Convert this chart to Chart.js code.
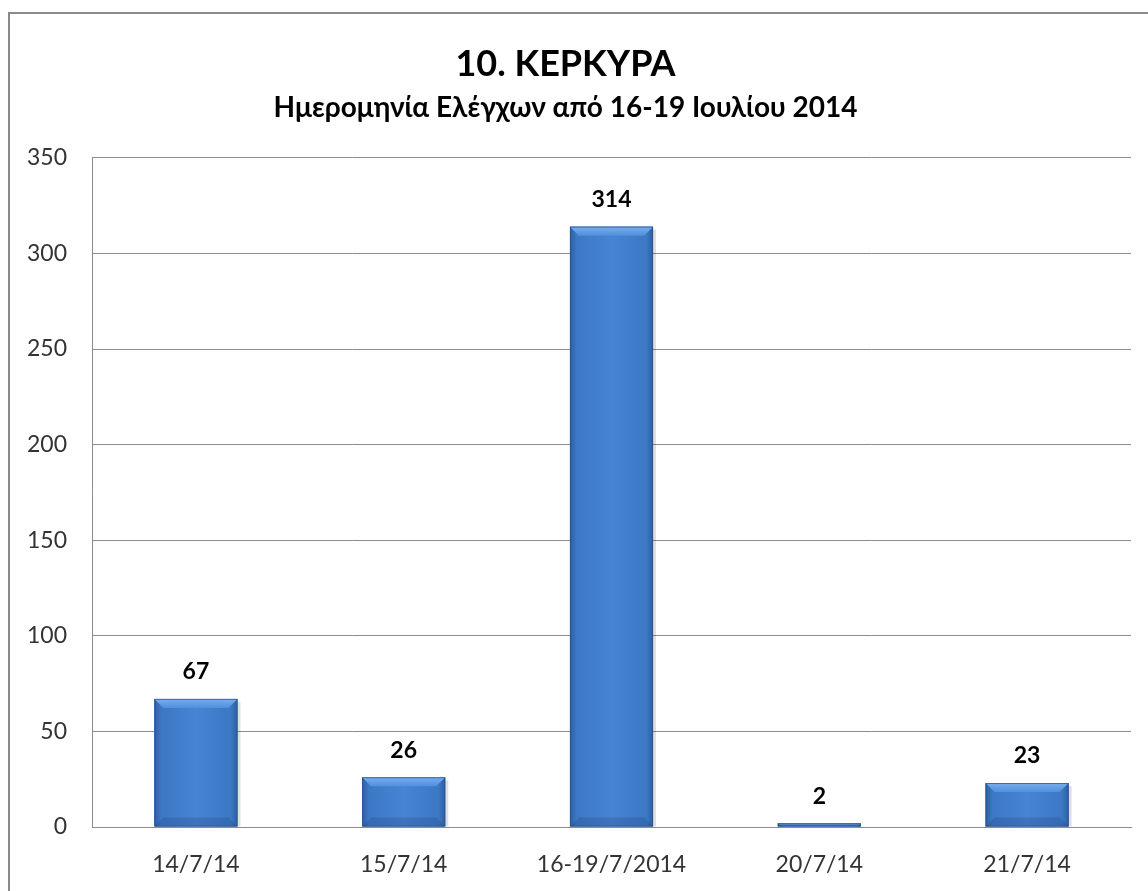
<!DOCTYPE html>
<html>
<head>
<meta charset="utf-8">
<script src="https://cdn.jsdelivr.net/npm/chart.js@4.4.1/dist/chart.umd.min.js"></script>
<style>
  html, body { margin: 0; padding: 0; background: #fff; overflow: hidden; }
  #frame { position: absolute; left: 8px; top: 12px; width: 1300px; height: 1000px; border: 2px solid #8a8a8a; box-sizing: border-box; }
  #wrap { position: absolute; left: 0; top: 0; width: 1148px; height: 891px; }
</style>
</head>
<body>
<div id="frame"></div>
<div id="wrap"><canvas id="chart"></canvas></div>
<script>
const labels = ["14/7/14", "15/7/14", "16-19/7/2014", "20/7/14", "21/7/14"];
const values = [67, 26, 314, 2, 23];
const yTicks = [0, 50, 100, 150, 200, 250, 300, 350];

const FAMILY = "Lato, 'Noto Sans', sans-serif";
const TICK_FONT = { family: FAMILY, size: 23 };
const GRID = "#8c8c8c";

// bevelled, shaded look of the bars, painted over each bar element
const bevel = {
  id: "bevel",
  afterDatasetsDraw(chart) {
    const ctx = chart.ctx;
    chart.getDatasetMeta(0).data.forEach(bar => {
      const { x, y, base, width } = bar.getProps(["x", "y", "base", "width"], true);
      const l = x - width / 2, r = x + width / 2, h = base - y;
      if (h <= 0) return;
      const b = Math.min(9, h / 2);
      ctx.save();
      // soft shadow on the right
      ctx.fillStyle = "rgba(0,0,0,0.12)"; ctx.fillRect(r, y + 3, 3, h - 3);
      const g = ctx.createLinearGradient(l, 0, r, 0);
      g.addColorStop(0, "#2d609f"); g.addColorStop(0.08, "#3c78c4"); g.addColorStop(0.5, "#4684d4");
      g.addColorStop(0.92, "#3c78c4"); g.addColorStop(1, "#2d609f");
      ctx.fillStyle = g; ctx.fillRect(l, y, width, h);
      // top bevel
      ctx.beginPath(); ctx.moveTo(l, y); ctx.lineTo(r, y); ctx.lineTo(r - b, y + b); ctx.lineTo(l + b, y + b); ctx.closePath();
      const gt = ctx.createLinearGradient(0, y, 0, y + b);
      gt.addColorStop(0, "#78aeee"); gt.addColorStop(1, "#5190dc");
      ctx.fillStyle = gt; ctx.fill();
      // bottom bevel
      ctx.beginPath(); ctx.moveTo(l, base); ctx.lineTo(r, base); ctx.lineTo(r - b, base - b); ctx.lineTo(l + b, base - b); ctx.closePath();
      ctx.fillStyle = "rgba(30,60,110,0.22)"; ctx.fill();
      ctx.strokeStyle = "rgba(40,80,140,0.7)"; ctx.lineWidth = 1; ctx.strokeRect(l + 0.5, y + 0.5, width - 1, h - 1);
      ctx.restore();
    });
  }
};

const valueLabels = {
  id: "valueLabels",
  afterDatasetsDraw(chart) {
    const ctx = chart.ctx;
    ctx.save();
    ctx.font = "bold 23px " + FAMILY;
    ctx.fillStyle = "#000"; ctx.textAlign = "center"; ctx.textBaseline = "middle";
    chart.getDatasetMeta(0).data.forEach((bar, i) => ctx.fillText(values[i], bar.x, bar.y - 27));
    ctx.restore();
  }
};

new Chart(document.getElementById("chart"), {
  type: "bar",
  data: { labels, datasets: [{ data: values, backgroundColor: "#3d7cc9", borderWidth: 0, categoryPercentage: 0.8, barPercentage: 0.5 }] },
  options: {
    responsive: true, maintainAspectRatio: false, animation: false,
    layout: { padding: { left: 0, right: 17, top: 0, bottom: 0 } },
    plugins: {
      legend: { display: false }, tooltip: { enabled: false },
      title: { display: true, text: "10. ΚΕΡΚΥΡΑ", color: "#000", font: { family: FAMILY, size: 36, weight: "bold" }, padding: { top: 43, bottom: 5 } },
      subtitle: { display: true, text: "Ημερομηνία Ελέγχων από 16-19 Ιουλίου 2014", color: "#000", font: { family: FAMILY, size: 28, weight: "bold" }, padding: { top: 0, bottom: 33 } }
    },
    scales: {
      y: {
        min: 0, max: 350,
        afterBuildTicks: s => { s.ticks = yTicks.map(v => ({ value: v })); },
        afterFit: s => { s.width = 92; },
        ticks: { color: "#333", font: TICK_FONT, padding: 25 },
        grid: { color: GRID, drawTicks: false },
        border: { display: true, color: GRID }
      },
      x: {
        afterFit: s => { s.height = 64; },
        ticks: { color: "#333", font: TICK_FONT, padding: 24 },
        grid: { display: false, drawTicks: false },
        border: { display: true, color: GRID }
      }
    }
  },
  plugins: [bevel, valueLabels]
});
</script>
</body>
</html>
